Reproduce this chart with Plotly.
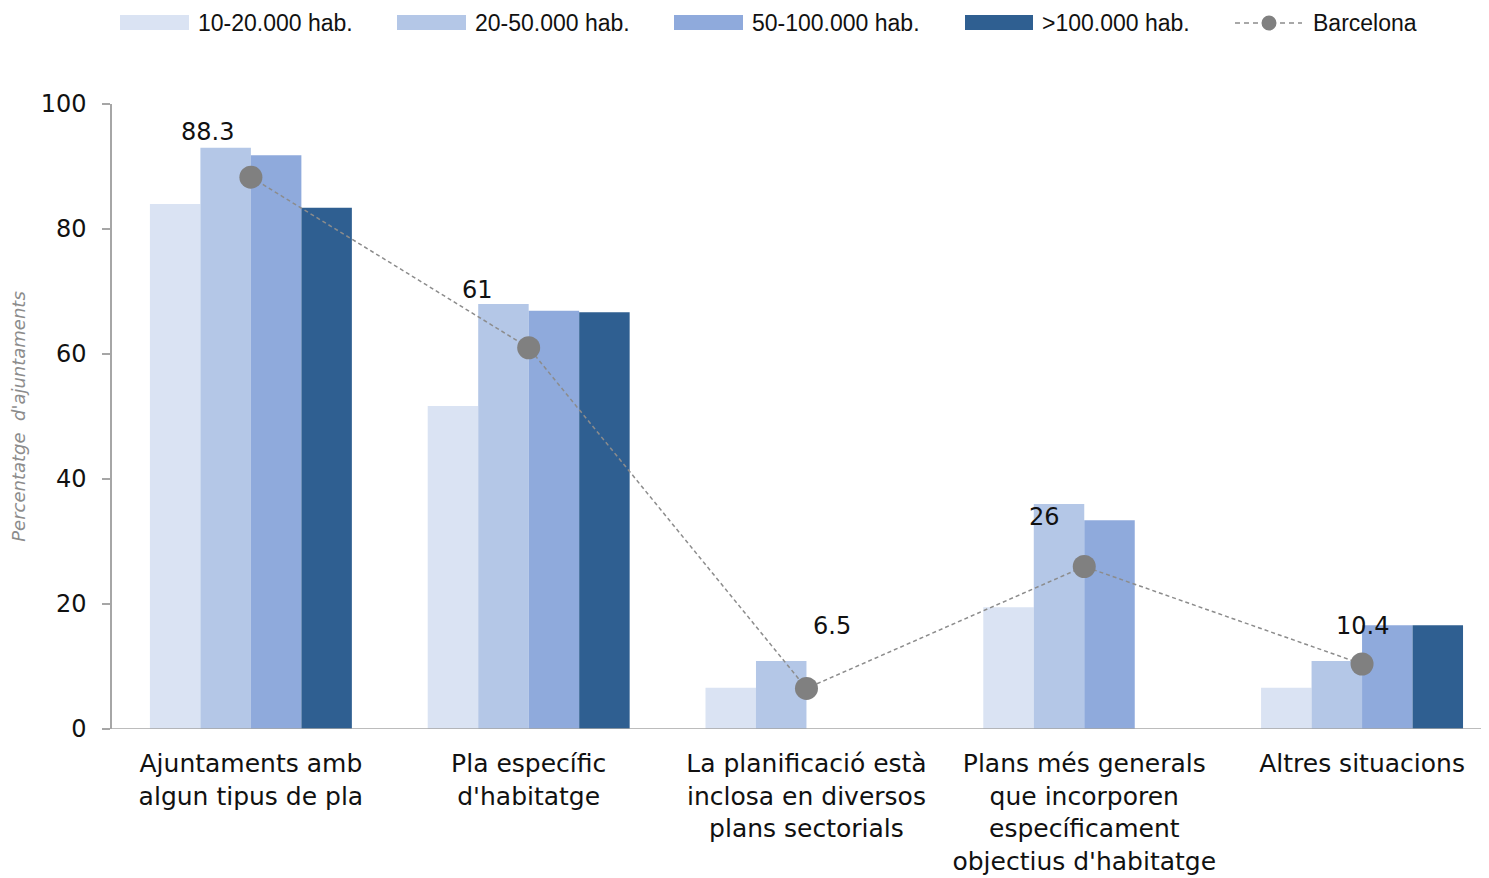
import plotly.graph_objects as go

categories = [
    "Ajuntaments amb<br>algun tipus de pla",
    "Pla específic<br>d'habitatge",
    "La planificació està<br>inclosa en diversos<br>plans sectorials",
    "Plans més generals<br>que incorporen<br>específicament<br>objectius d'habitatge",
    "Altres situacions",
]
series_names = ["10-20.000 hab.", "20-50.000 hab.", "50-100.000 hab.", ">100.000 hab."]
s_10_20 = [84.0, 51.7, 6.6, 19.5, 6.6]
s_20_50 = [93.0, 68.0, 10.9, 36.0, 10.9]
s_50_100 = [91.8, 66.9, 0, 33.4, 16.6]
s_100 = [83.4, 66.7, 0, 0, 16.6]
barcelona = [88.3, 61, 6.5, 26, 10.4]
barcelona_labels = ["88.3", "61", "6.5", "26", "10.4"]
barcelona_name = "Barcelona"

colors = ["#dae3f3", "#b4c7e7", "#8faadc", "#2f5f91"]
label_shifts = [(-43, 45), (-51, 58), (26, 62), (-40, 50), (0, 38)]

font_main = "DejaVu Sans, Verdana, sans-serif"
font_leg = "Liberation Sans, Arial, sans-serif"

# plot-area geometry (page pixels) used for placing the hand-drawn legend
PL, PR, PT, PB = 112, 1489, 104, 729
def px(x):
    return (x - PL) / (PR - PL)
def py(y):
    return (PB - y) / (PB - PT)

fig = go.Figure()
for name, vals, c in zip(series_names, [s_10_20, s_20_50, s_50_100, s_100], colors):
    fig.add_trace(go.Bar(x=categories, y=vals, name=name, showlegend=False,
                         marker=dict(color=c, line=dict(width=0))))

fig.add_trace(go.Scatter(
    x=categories, y=barcelona, name=barcelona_name, mode="lines+markers", showlegend=False,
    line=dict(color="#8c8c8c", width=1.5, dash="4px,3px"),
    marker=dict(color="#808080", size=23),
))

for cat, v, lab, (dx, dy) in zip(categories, barcelona, barcelona_labels, label_shifts):
    fig.add_annotation(x=cat, y=v, text=lab, showarrow=False, xshift=dx, yshift=dy,
                       font=dict(size=24, color="#111111", family=font_main))

# x axis baseline (extends slightly left of the y axis)
fig.add_shape(type="line", xref="paper", yref="y", x0=px(103), x1=1, y0=0, y1=0,
              line=dict(color="#a6a6a6", width=1.5))

# legend (drawn manually to get the wide swatches)
leg_swatch_x = [(120, 189), (397, 466), (674, 743), (965, 1033)]
leg_text_x = [196, 473, 750, 1040]
for (x0, x1), tx, name, c in zip(leg_swatch_x, leg_text_x, series_names, colors):
    fig.add_shape(type="rect", xref="paper", yref="paper", x0=px(x0), x1=px(x1),
                  y0=py(30), y1=py(15), fillcolor=c, line=dict(width=0), layer="above")
    fig.add_annotation(xref="paper", yref="paper", x=px(tx), y=py(23), text=name,
                       showarrow=False, xanchor="left", yanchor="middle",
                       font=dict(family=font_leg, size=23, color="#111111"))
fig.add_shape(type="line", xref="paper", yref="paper", x0=px(1235), x1=px(1302),
              y0=py(23), y1=py(23), line=dict(color="#8c8c8c", width=1.5, dash="5px,4px"))
fig.add_shape(type="circle", xref="paper", yref="paper", x0=px(1261.5), x1=px(1276.5),
              y0=py(30.5), y1=py(15.5), fillcolor="#808080", line=dict(width=0), layer="above")
fig.add_annotation(xref="paper", yref="paper", x=px(1311), y=py(23), text=barcelona_name,
                   showarrow=False, xanchor="left", yanchor="middle",
                   font=dict(family=font_leg, size=23, color="#111111"))

fig.update_layout(
    width=1481, height=870,
    margin=dict(l=104, r=0, t=96, b=149, autoexpand=False),
    paper_bgcolor="white", plot_bgcolor="white",
    barmode="group", bargap=0.273, bargroupgap=0,
    font=dict(family=font_main, size=24, color="#111111"),
    showlegend=False,
)
fig.update_xaxes(range=[-0.5, 4.457], showline=False, ticks="", showgrid=False,
                 tickfont=dict(size=25), ticklabelstandoff=17)
fig.update_yaxes(range=[0, 100], tickvals=[0, 20, 40, 60, 80, 100], showgrid=False,
                 zeroline=False, showline=True, linecolor="#a6a6a6", linewidth=1.5,
                 ticks="outside", ticklen=8, tickcolor="#a6a6a6", tickwidth=1.5,
                 tickfont=dict(size=24), ticklabelstandoff=11,
                 title=dict(text="<i>Percentatge  d'ajuntaments</i>", standoff=10,
                            font=dict(size=18, color="#8c8c8c")))

fig.write_html("out.html")
